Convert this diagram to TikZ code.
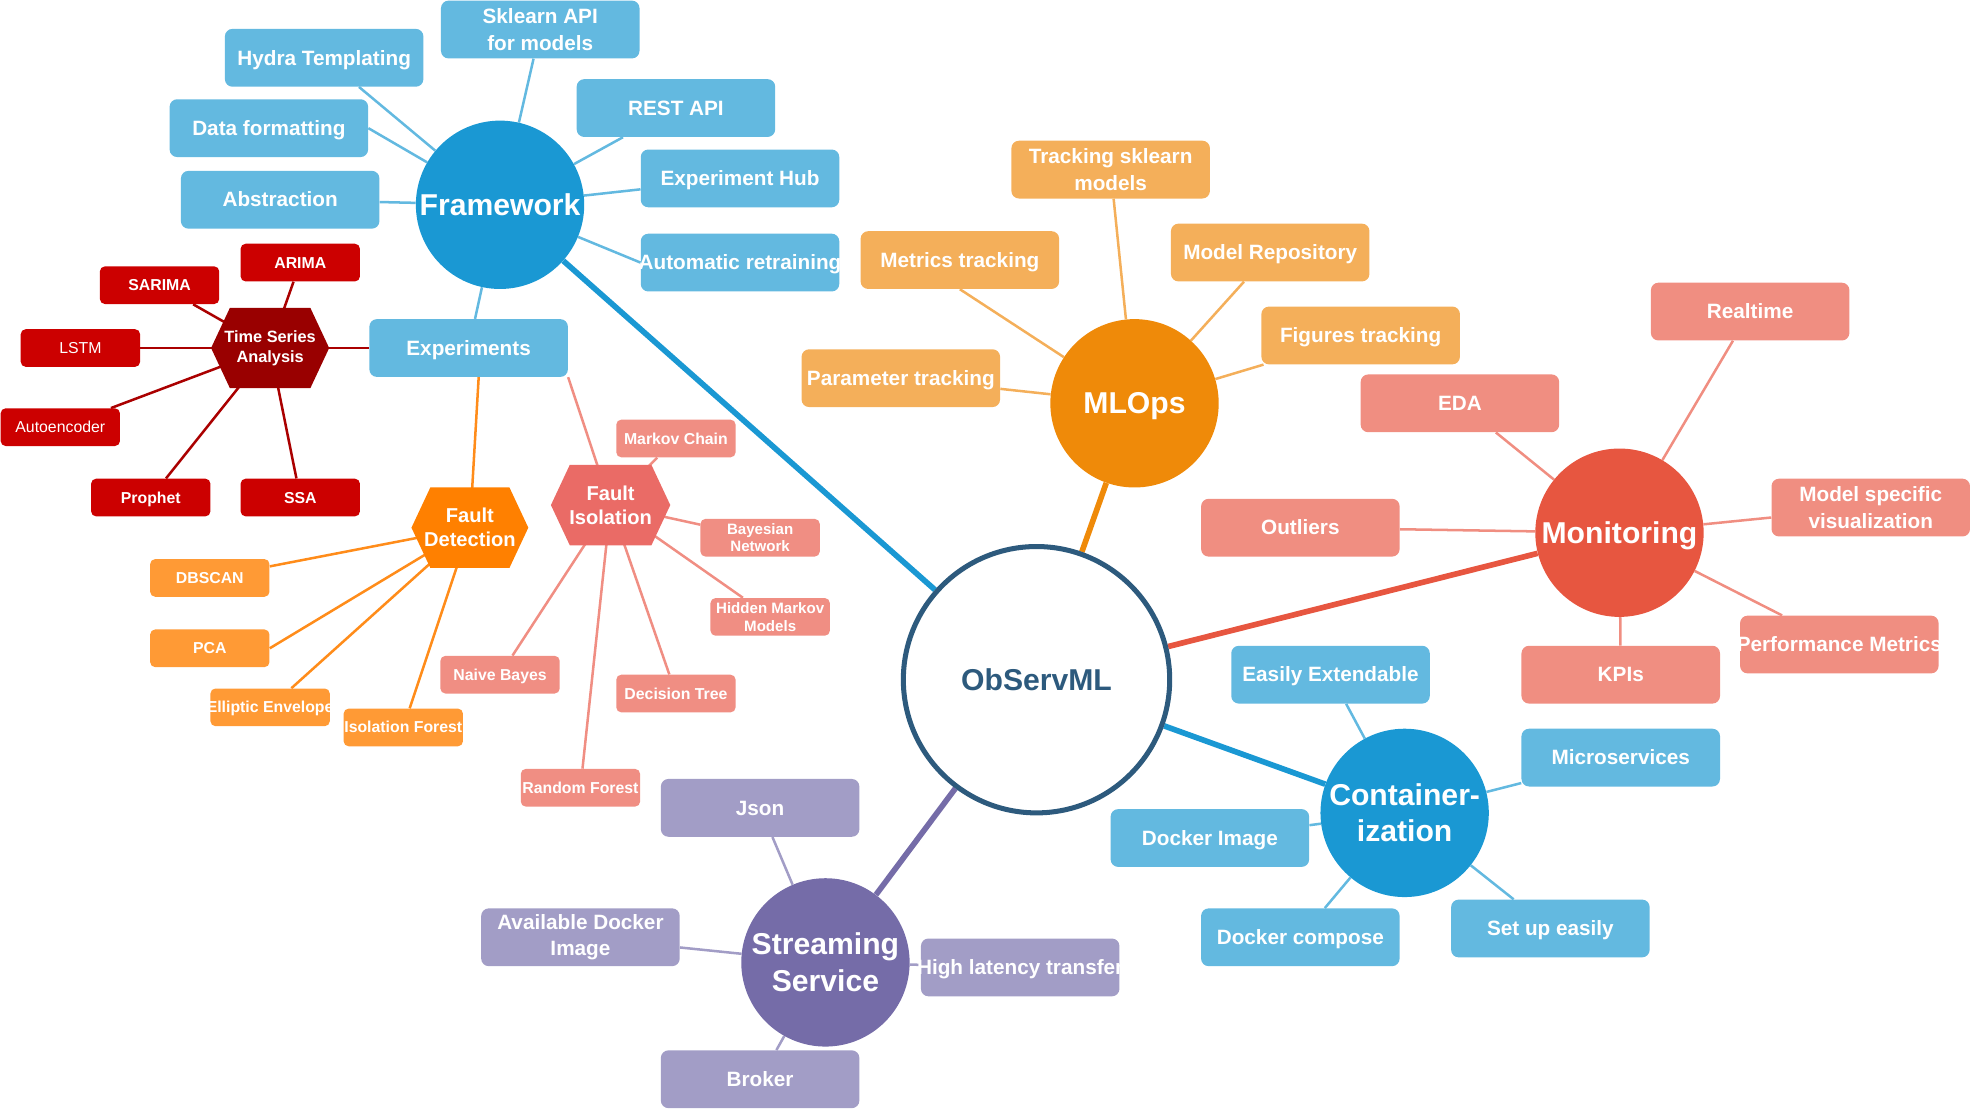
\documentclass[tikz,border=0pt]{standalone}
\usepackage{fontspec}
\setmainfont{Liberation Sans}
\usetikzlibrary{backgrounds}
\definecolor{fwc}{HTML}{1A98D3}
\definecolor{lbl}{HTML}{63B9E0}
\definecolor{tsac}{HTML}{990000}
\definecolor{redc}{HTML}{CC0000}
\definecolor{redl}{HTML}{AA0000}
\definecolor{fdc}{HTML}{FF8000}
\definecolor{fdb}{HTML}{FF9A35}
\definecolor{fdl}{HTML}{FF8C1A}
\definecolor{fic}{HTML}{EA6B66}
\definecolor{fib}{HTML}{F08E83}
\definecolor{mlc}{HTML}{EF8A09}
\definecolor{mlb}{HTML}{F4AF5A}
\definecolor{monc}{HTML}{E75640}
\definecolor{monb}{HTML}{F08E81}
\definecolor{obsc}{HTML}{2D5A7D}
\definecolor{ssc}{HTML}{756CA8}
\definecolor{ssb}{HTML}{A29DC6}
\tikzset{
  box/.style={rectangle, rounded corners=6, minimum width=158, minimum height=46, inner sep=0pt, text height=15pt, text depth=3.5pt, text=white, font=\bfseries\fontsize{16.5}{21}\selectfont, align=center},
  sbox/.style={rectangle, rounded corners=4, minimum width=95, minimum height=30, inner sep=0pt, text height=11.5pt, text depth=2.7pt, text=white, font=\bfseries\fontsize{12.6}{14}\selectfont, align=center},
  hub/.style={circle, minimum size=134, inner sep=0pt, text height=21.7pt, text depth=5pt, text=white, font=\bfseries\fontsize{24}{29}\selectfont, align=center},
  twoline/.style={text height={}, text depth={}},
  hexnode/.style n args={4}{rectangle, minimum width=#1, minimum height=#2, inner sep=0pt, text=white, align=center,
    path picture={\fill[#3] (path picture bounding box.west) -- ([xshift=#4]path picture bounding box.north west) -- ([xshift=-#4]path picture bounding box.north east) -- (path picture bounding box.east) -- ([xshift=-#4]path picture bounding box.south east) -- ([xshift=#4]path picture bounding box.south west) -- cycle;}},
  thin/.style={line width=2pt},
  thick/.style={line width=4.5pt},
}
\begin{document}
\begin{tikzpicture}[x=1pt,y=-1pt]
\useasboundingbox (0,0) rectangle (1568,883.5);
% ---------------- Framework ----------------
\node[hub, fill=fwc] (fw) at (398,163) {Framework};
\node[box, twoline, fill=lbl] (sk) at (430,23.5) {Sklearn API\\for models};
\node[box, fill=lbl] (hy) at (258,46) {Hydra Templating};
\node[box, fill=lbl] (rest) at (538,86) {REST API};
\node[box, fill=lbl] (df) at (214,102) {Data formatting};
\node[box, fill=lbl] (eh) at (589,142) {Experiment Hub};
\node[box, fill=lbl] (abs) at (223,159) {Abstraction};
\node[box, fill=lbl] (ar) at (589,209) {\makebox[0pt]{Automatic retraining}};
\node[box, fill=lbl] (exp) at (373,277) {Experiments};
% Time series
\node[hexnode={94}{64}{tsac}{15}, font=\bfseries\fontsize{13}{16}\selectfont] (tsa) at (215,277) {Time Series\\Analysis};
\node[sbox, fill=redc] (arima) at (239,209) {ARIMA};
\node[sbox, fill=redc] (sarima) at (127,227) {SARIMA};
\node[sbox, fill=redc, font=\fontsize{12.6}{14}\selectfont] (lstm) at (64,277) {LSTM};
\node[sbox, fill=redc, font=\fontsize{12.6}{14}\selectfont] (auto) at (48,340) {Autoencoder};
\node[sbox, fill=redc] (prophet) at (120,396) {Prophet};
\node[sbox, fill=redc] (ssa) at (239,396) {SSA};
% Fault detection
\node[hexnode={93}{64}{fdc}{15}, font=\bfseries\fontsize{16}{19}\selectfont] (fd) at (374,420) {Fault\\Detection};
\node[sbox, fill=fdb] (dbscan) at (167,460) {DBSCAN};
\node[sbox, fill=fdb] (pca) at (167,516) {PCA};
\node[sbox, fill=fdb] (ee) at (215,563) {\makebox[0pt]{Elliptic Envelope}};
\node[sbox, fill=fdb] (if) at (321,579) {\makebox[0pt]{Isolation Forest}};
% Fault isolation
\node[hexnode={95}{64}{fic}{15}, font=\bfseries\fontsize{16}{19}\selectfont] (fi) at (486,402) {Fault\\Isolation};
\node[sbox, fill=fib] (mc) at (538,349) {Markov Chain};
\node[sbox, twoline, fill=fib, font=\bfseries\fontsize{12}{14}\selectfont] (bn) at (605,428) {Bayesian\\Network};
\node[sbox, twoline, fill=fib, font=\bfseries\fontsize{12}{14}\selectfont] (hmm) at (613,491) {Hidden Markov\\Models};
\node[sbox, fill=fib] (nb) at (398,537) {Naive Bayes};
\node[sbox, fill=fib] (dt) at (538,552) {Decision Tree};
\node[sbox, fill=fib] (rf) at (462,627) {\makebox[0pt]{Random Forest}};
% ---------------- MLOps ----------------
\node[hub, fill=mlc] (ml) at (903,321) {MLOps};
\node[box, twoline, fill=mlb] (tsk) at (884,135) {Tracking sklearn\\models};
\node[box, fill=mlb] (mt) at (764,207) {Metrics tracking};
\node[box, fill=mlb] (mr) at (1011,201) {Model Repository};
\node[box, fill=mlb] (ft) at (1083,267) {Figures tracking};
\node[box, fill=mlb] (pt) at (717,301) {Parameter tracking};
% ---------------- Monitoring ----------------
\node[hub, fill=monc] (mon) at (1289,424) {Monitoring};
\node[box, fill=monb] (rt) at (1393,248) {Realtime};
\node[box, fill=monb] (eda) at (1162,321) {EDA};
\node[box, fill=monb] (out) at (1035,420) {Outliers};
\node[box, twoline, fill=monb] (msv) at (1489,404) {Model specific\\visualization};
\node[box, fill=monb] (pm) at (1464,513) {\makebox[0pt]{Performance Metrics}};
\node[box, fill=monb] (kpi) at (1290,537) {KPIs};
% ---------------- ObServML ----------------
\node[circle, minimum size=212, inner sep=0pt, fill=white, draw=obsc, line width=4pt, text=obsc, text height=21.7pt, text depth=5pt, font=\bfseries\fontsize{24}{29}\selectfont] (obs) at (825,541) {ObServML};
% ---------------- Containerization ----------------
\node[hub, twoline, fill=fwc] (ct) at (1118,647) {Container-\\ization};
\node[box, fill=lbl] (ext) at (1059,537) {Easily Extendable};
\node[box, fill=lbl] (micro) at (1290,603) {Microservices};
\node[box, fill=lbl] (dimg) at (963,667) {Docker Image};
\node[box, fill=lbl] (dcomp) at (1035,746) {Docker compose};
\node[box, fill=lbl] (setup) at (1234,739) {Set up easily};
% ---------------- Streaming ----------------
\node[hub, twoline, fill=ssc] (ss) at (657,766) {Streaming\\Service};
\node[box, fill=ssb] (json) at (605,643) {Json};
\node[box, twoline, fill=ssb] (adi) at (462,746) {Available Docker\\Image};
\node[box, fill=ssb] (hlt) at (812,770) {\makebox[0pt]{High latency transfer}};
\node[box, fill=ssb] (broker) at (605,859) {Broker};
% ---------------- Connectors ----------------
\begin{scope}[on background layer]
\draw[thin, lbl] (sk) -- (fw);
\draw[thin, lbl] (hy) -- (fw);
\draw[thin, lbl] (rest) -- (fw);
\draw[thin, lbl] (df.east) -- (fw);
\draw[thin, lbl] (eh) -- (fw);
\draw[thin, lbl] (abs) -- (fw);
\draw[thin, lbl] (ar.west) -- (fw);
\draw[thin, lbl] (exp) -- (fw);
\draw[thick, fwc] (fw) -- (obs);
\draw[thin, redl] (tsa.center) -- (exp);
\draw[thin, redl] (tsa.center) -- (arima);
\draw[thin, redl] (tsa.center) -- (sarima);
\draw[thin, redl] (tsa.center) -- (lstm);
\draw[thin, redl] (tsa.center) -- (auto);
\draw[thin, redl] (tsa.center) -- (prophet);
\draw[thin, redl] (tsa.center) -- (ssa);
\draw[thin, fdl] ([xshift=8]exp.south) -- (fd.center);
\draw[thin, fib] (exp.south east) -- (fi.center);
\draw[thin, fdl] (fd.center) -- (dbscan);
\draw[thin, fdl] (fd.center) -- (pca.east);
\draw[thin, fdl] (fd.center) -- (ee);
\draw[thin, fdl] (fd.center) -- (if);
\draw[thin, fib] (fi.center) -- (mc);
\draw[thin, fib] (fi.center) -- (bn);
\draw[thin, fib] (fi.center) -- (hmm);
\draw[thin, fib] (fi.center) -- (nb);
\draw[thin, fib] (fi.center) -- (dt);
\draw[thin, fib] (fi.center) -- (rf);
\draw[thin, mlb] (tsk) -- (ml);
\draw[thin, mlb] (mt.south) -- (ml);
\draw[thin, mlb] (mr) -- (ml);
\draw[thin, mlb] (ft) -- (ml);
\draw[thin, mlb] (pt) -- (ml);
\draw[thick, mlc] (ml) -- (obs);
\draw[thin, monb] (rt) -- (mon);
\draw[thin, monb] (eda) -- (mon);
\draw[thin, monb] (out) -- (mon);
\draw[thin, monb] (msv) -- (mon);
\draw[thin, monb] (pm) -- (mon);
\draw[thin, monb] (kpi) -- (mon);
\draw[thick, monc] (mon) -- (obs);
\draw[thick, fwc] (obs) -- (ct);
\draw[thin, lbl] (ext) -- (ct);
\draw[thin, lbl] (micro) -- (ct);
\draw[thin, lbl] (dimg) -- (ct);
\draw[thin, lbl] (dcomp) -- (ct);
\draw[thin, lbl] (setup) -- (ct);
\draw[thick, ssc] (obs) -- (ss);
\draw[thin, ssb] (json) -- (ss);
\draw[thin, ssb] (adi) -- (ss);
\draw[thin, ssb] (hlt) -- (ss);
\draw[thin, ssb] (broker) -- (ss);
\end{scope}
\end{tikzpicture}
\end{document}
